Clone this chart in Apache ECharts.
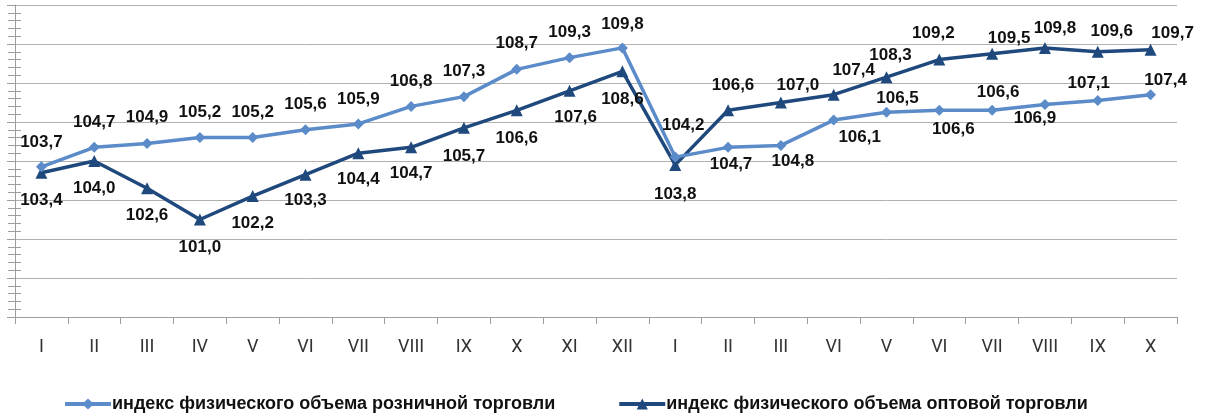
<!DOCTYPE html>
<html lang="ru">
<head>
    <meta charset="UTF-8">
    <title>Индексы физического объема торговли</title>
    <style>
        * { margin: 0; padding: 0; }
        body { background: #ffffff; }
        #chart-container { width: 1206px; height: 414px; }
    </style>
</head>
<body>
    <div id="chart-container"></div>
    <script src="https://cdn.jsdelivr.net/npm/echarts@6.0.0/dist/echarts.min.js"></script>
    <script>
        // month labels (two years in a row, as printed on the original)
        var months = ['I', 'II', 'III', 'IV', 'V', 'VI', 'VII', 'VIII', 'IX', 'X', 'XI', 'XII',
                      'I', 'II', 'III', 'VI', 'V', 'VI', 'VII', 'VIII', 'IX', 'X'];

        var retail = [103.7, 104.7, 104.9, 105.2, 105.2, 105.6, 105.9, 106.8, 107.3, 108.7, 109.3, 109.8,
                      104.2, 104.7, 104.8, 106.1, 106.5, 106.6, 106.6, 106.9, 107.1, 107.4];
        var wholesale = [103.4, 104.0, 102.6, 101.0, 102.2, 103.3, 104.4, 104.7, 105.7, 106.6, 107.6, 108.6,
                         103.8, 106.6, 107.0, 107.4, 108.3, 109.2, 109.5, 109.8, 109.6, 109.7];

        var retailName = 'индекс физического объема розничной торговли';
        var wholesaleName = 'индекс физического объема оптовой торговли';

        // where each value label sits relative to its point (px)
        var retailLabelShift = [[0, -25], [0, -25], [0, -26], [0, -25], [0, -25], [0, -25], [0, -25], [0, -25],
                                [0, -25], [0, -26], [0, -25], [0, -24],
                                [8, -32], [3, 17], [12, 16], [26, 17], [11, -14], [14, 19], [6, -18],
                                [-10, 14], [-9, -17], [15, -14]];
        var wholesaleLabelShift = [[0, 28], [0, 27], [0, 27], [0, 28], [0, 27], [0, 26], [0, 26], [0, 26],
                                   [0, 28], [0, 28], [6, 27], [0, 28],
                                   [0, 29], [5, -25], [17, -17], [20, -24], [4, -22], [-6, -26], [17, -15],
                                   [10, -20], [14, -20], [22, -17]];

        var retailColor = '#5b8bc9';
        var wholesaleColor = '#1f497d';

        function withLabels(values, shifts) {
            return values.map(function (v, i) {
                return {
                    value: v,
                    label: { offset: shifts[i] }
                };
            });
        }

        function fmt(p) {
            return p.value.toFixed(1).replace('.', ',');
        }

        var labelStyle = {
            show: true,
            position: 'inside',
            color: '#111111',
            fontFamily: 'Liberation Sans, Arial, sans-serif',
            fontWeight: 'bold',
            fontSize: 17,
            formatter: fmt
        };

        var dom = document.getElementById('chart-container');
        var myChart = echarts.init(dom, null, { renderer: 'canvas' });

        var option = {
            animation: false,
            grid: { left: 15, right: 29, top: 5, bottom: 97 },
            legend: {
                left: 58,
                top: 390,
                itemGap: 62,
                itemWidth: 46,
                itemHeight: 14,
                lineStyle: { width: 4 },
                textStyle: {
                    fontFamily: 'Liberation Sans, Arial, sans-serif',
                    fontWeight: 'bold',
                    fontSize: 18,
                    color: '#111111',
                    padding: [0, 0, 0, -4]
                },
                data: [retailName, wholesaleName]
            },
            xAxis: {
                type: 'category',
                data: months,
                boundaryGap: true,
                axisLine: { lineStyle: { color: '#9e9e9e', width: 1 } },
                axisTick: { show: true, length: 7, lineStyle: { color: '#9e9e9e' } },
                axisLabel: {
                    margin: 21,
                    color: '#333333',
                    fontFamily: 'Roboto, Arial, sans-serif',
                    fontSize: 18
                }
            },
            yAxis: [
                {
                    type: 'value',
                    min: 96,
                    max: 112,
                    interval: 2,
                    axisLine: { show: true, lineStyle: { color: '#9e9e9e' } },
                    axisTick: { show: true, length: 8, lineStyle: { color: '#9e9e9e' } },
                    minorTick: { show: true, splitNumber: 5, length: 7, lineStyle: { color: '#9e9e9e' } },
                    axisLabel: { show: false },
                    splitLine: { lineStyle: { color: '#b0b0b0', width: 1 } }
                },
                {
                    // only draws the inner half of the minor ticks
                    type: 'value',
                    min: 96,
                    max: 112,
                    interval: 2,
                    position: 'left',
                    axisLine: { show: false },
                    axisTick: { show: true, inside: true, length: 0 },
                    minorTick: { show: true, splitNumber: 5, length: 6, lineStyle: { color: '#9e9e9e' } },
                    axisLabel: { show: false },
                    splitLine: { show: false }
                }
            ],
            series: [
                {
                    name: retailName,
                    type: 'line',
                    data: withLabels(retail, retailLabelShift),
                    symbol: 'diamond',
                    symbolSize: 11,
                    lineStyle: { color: retailColor, width: 3.5 },
                    itemStyle: { color: retailColor },
                    label: labelStyle,
                    z: 3
                },
                {
                    name: wholesaleName,
                    type: 'line',
                    data: withLabels(wholesale, wholesaleLabelShift),
                    symbol: 'triangle',
                    symbolSize: 12,
                    lineStyle: { color: wholesaleColor, width: 3.5 },
                    itemStyle: { color: wholesaleColor },
                    label: labelStyle,
                    z: 2
                }
            ]
        };

        myChart.setOption(option);
        window.addEventListener('resize', myChart.resize);
    </script>
</body>
</html>
